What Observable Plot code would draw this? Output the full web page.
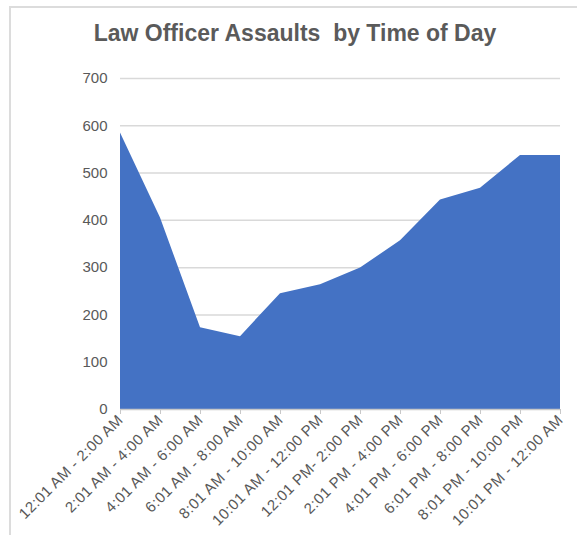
<!DOCTYPE html>
<html>
<head>
<meta charset="utf-8">
<script src="https://cdn.jsdelivr.net/npm/d3@7"></script>
<script src="https://cdn.jsdelivr.net/npm/@observablehq/plot@0.6"></script>
<style>
  html, body { margin: 0; padding: 0; background: #fff; overflow: hidden; }
  #wrap { position: relative; width: 577px; height: 535px; overflow: hidden; }
  #frame { position: absolute; left: 9px; top: 6px; width: 600px; height: 600px;
           border-top: 2px solid #dcdcdc; border-left: 2px solid #dcdcdc; box-sizing: border-box; }
  #title { position: absolute; left: 0; top: 22px; width: 590px; text-align: center; white-space: pre;
           font: bold 23px "Liberation Sans", Arial, sans-serif; line-height: 23px; color: #5a5a5a; }
  #chart { position: absolute; left: 0; top: 0; }
  .xax text { letter-spacing: 0.45px; }
</style>
</head>
<body>
<div id="wrap">
  <div id="frame"></div>
  <div id="chart"></div>
  <div id="title">Law Officer Assaults  by Time of Day</div>
</div>
<script>
const categories = [
  "12:01 AM - 2:00 AM",
  "2:01 AM - 4:00 AM",
  "4:01 AM - 6:00 AM",
  "6:01 AM - 8:00 AM",
  "8:01 AM - 10:00 AM",
  "10:01 AM - 12:00 PM",
  "12:01 PM- 2:00 PM",
  "2:01 PM - 4:00 PM",
  "4:01 PM - 6:00 PM",
  "6:01 PM - 8:00 PM",
  "8:01 PM - 10:00 PM",
  "10:01 PM - 12:00 AM"
];
const values = [585, 405, 173, 154, 245, 264, 299, 357, 443, 468, 537, 537];
const yTicks = [0, 100, 200, 300, 400, 500, 600, 700];

const data = categories.map((c, i) => ({cat: c, value: values[i]}));

const chart = Plot.plot({
  width: 577,
  height: 535,
  marginLeft: 120,
  marginRight: 17,
  marginTop: 78,
  marginBottom: 126,
  style: {fontFamily: "'Liberation Sans', Arial, sans-serif", color: "#595959", background: "transparent", overflow: "visible"},
  x: {type: "point", domain: categories, padding: 0, label: null},
  y: {domain: [0, 700], label: null},
  marks: [
    Plot.ruleY(yTicks.filter(d => d > 0), {stroke: "#d9d9d9", strokeWidth: 1.5}),
    Plot.areaY(data, {x: "cat", y: "value", fill: "#4472c4", curve: "linear"}),
    Plot.ruleY([0], {stroke: "#c8c8c8", strokeWidth: 1.5}),
    Plot.axisY({ticks: yTicks, tickSize: 0, tickPadding: 13, fontSize: 15, label: null}),
    Plot.axisX({tickRotate: -45, tickSize: 5, tickPadding: 3, stroke: "#c8c8c8", fontSize: 15, label: null, className: "xax"})
  ]
});
document.getElementById("chart").appendChild(chart);
</script>
</body>
</html>
